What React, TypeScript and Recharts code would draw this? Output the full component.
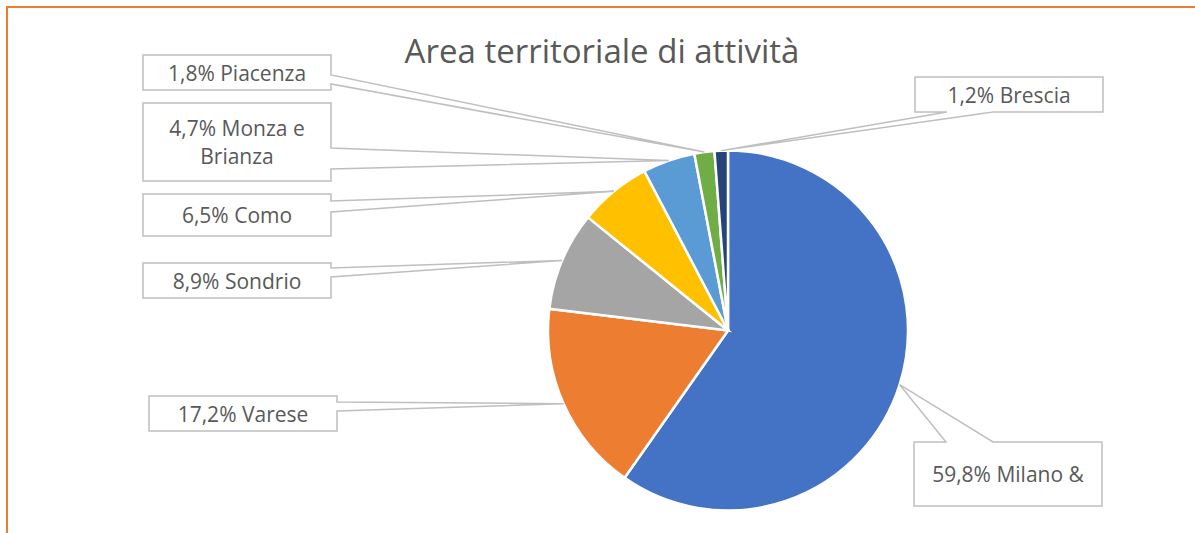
import React from "react";
import { PieChart, Pie, Cell, Customized } from "recharts";

// ---- data ----
const AREAS = ["Milano &", "Varese", "Sondrio", "Como", "Monza e\nBrianza", "Piacenza", "Brescia"];
const SHARES = [59.8, 17.2, 8.9, 6.5, 4.7, 1.8, 1.2];
const TITLE = "Area territoriale di attività";

// ---- styles ----
const COLORS = ["#4472C4", "#ED7D31", "#A5A5A5", "#FFC000", "#5B9BD5", "#70AD47", "#264478"];
const FONT = "'Open Sans', 'DejaVu Sans', sans-serif";
const TEXT_COLOR = "#595959";
const BOX_STROKE = "#BFBFBF";

// ---- callout box layout (box rect and where the wedge attaches) ----
const CALLOUTS = [
  { x: 914, y: 442, w: 188, h: 64, side: "top", a: 946, b: 993 },
  { x: 149, y: 396, w: 188, h: 35, side: "right", a: 402, b: 411 },
  { x: 143, y: 263, w: 188, h: 35, side: "right", a: 268, b: 277 },
  { x: 143, y: 194, w: 188, h: 42, side: "right", a: 201, b: 212 },
  { x: 143, y: 103, w: 188, h: 78, side: "right", a: 148, b: 169 },
  { x: 143, y: 55, w: 188, h: 35, side: "right", a: 75, b: 84 },
  { x: 915, y: 77, w: 188, h: 35, side: "bottom", a: 947, b: 993 },
];

const data = AREAS.map((name, i) => ({ name, value: SHARES[i] }));

const RAD = Math.PI / 180;

function calloutPath(c: any, tx: number, ty: number) {
  const { x, y, w, h, side, a, b } = c;
  const r = x + w;
  const btm = y + h;
  if (side === "right") {
    return `M${x},${y} L${r},${y} L${r},${a} L${tx},${ty} L${r},${b} L${r},${btm} L${x},${btm} Z`;
  }
  if (side === "top") {
    return `M${x},${y} L${a},${y} L${tx},${ty} L${b},${y} L${r},${y} L${r},${btm} L${x},${btm} Z`;
  }
  return `M${x},${y} L${r},${y} L${r},${btm} L${b},${btm} L${tx},${ty} L${a},${btm} L${x},${btm} Z`;
}

const renderLabel = (props: any) => {
  const { cx, cy, midAngle, outerRadius, index, value, name } = props;
  const c = CALLOUTS[index];
  const tx = cx + outerRadius * Math.cos(-midAngle * RAD);
  const ty = cy + outerRadius * Math.sin(-midAngle * RAD);
  const pct = Number(value).toFixed(1).replace(".", ",") + "%";
  const lines = (pct + " " + name).split("\n");
  const lh = 28;
  const centerY = c.y + c.h / 2;
  const startY = centerY - ((lines.length - 1) * lh) / 2;
  return (
    <g key={`lbl-${index}`}>
      <path d={calloutPath(c, tx, ty)} fill="#ffffff" stroke={BOX_STROKE} strokeWidth={1.5} strokeLinejoin="miter" />
      <text
        x={c.x + c.w / 2}
        textAnchor="middle"
        fontFamily={FONT}
        fontSize={21}
        fill={TEXT_COLOR}
      >
        {lines.map((ln, i) => (
          <tspan key={i} x={c.x + c.w / 2} y={startY + i * lh} dominantBaseline="central">
            {ln}
          </tspan>
        ))}
      </text>
    </g>
  );
};

const Title = () => (
  <text
    x={602}
    y={63}
    textAnchor="middle"
    fontFamily={FONT}
    fontWeight={400}
    fontSize={33}
    fill={TEXT_COLOR}
  >
    {TITLE}
  </text>
);

export default function App() {
  return (
    <div style={{ position: "absolute", left: 0, top: 0, width: 1195, height: 533, background: "#fff", overflow: "hidden" }}>
      <div
        style={{
          position: "absolute",
          left: 6,
          top: 6,
          width: 1195,
          height: 533,
          borderTop: "2px solid #ED7D31",
          borderLeft: "2px solid #ED7D31",
        }}
      />
      <div style={{ position: "absolute", left: 0, top: 0 }}>
        <PieChart width={1195} height={533} margin={{ top: 0, right: 0, bottom: 0, left: 0 }}>
          <Customized component={Title} />
          <Pie
            data={data}
            dataKey="value"
            nameKey="name"
            cx={728}
            cy={330.5}
            outerRadius={180}
            startAngle={90}
            endAngle={-270}
            stroke="#ffffff"
            strokeWidth={2.5}
            label={renderLabel}
            labelLine={false}
            isAnimationActive={false}
          >
            {data.map((d, i) => (
              <Cell key={d.name} fill={COLORS[i]} />
            ))}
          </Pie>
        </PieChart>
      </div>
    </div>
  );
}
